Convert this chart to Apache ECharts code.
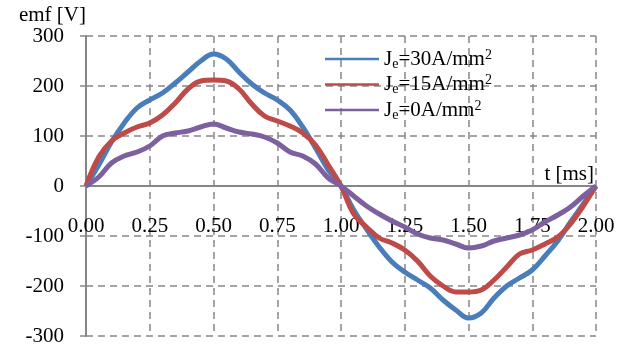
<!DOCTYPE html>
<html>
<head>
<meta charset="utf-8">
<script src="https://cdn.jsdelivr.net/npm/echarts@6/dist/echarts.min.js"></script>
<style>
  html, body { margin: 0; padding: 0; background: #fff; }
  #emfChart { width: 627px; height: 348px; }
</style>
</head>
<body>
<div id="emfChart"></div>
<script>
// time axis [ms], step 0.05
const timeMs = [
  0, 0.05, 0.1, 0.15, 0.2, 0.25, 0.3, 0.35, 0.4, 0.45, 0.5,
  0.55, 0.6, 0.65, 0.7, 0.75, 0.8, 0.85, 0.9, 0.95, 1.0,
  1.05, 1.1, 1.15, 1.2, 1.25, 1.3, 1.35, 1.4, 1.45, 1.5,
  1.55, 1.6, 1.65, 1.7, 1.75, 1.8, 1.85, 1.9, 1.95, 2.0
]
const seriesNames = ['Je=30A/mm2', 'Je=15A/mm2', 'Je=0A/mm2']
const emf30 = [
  0, 42, 88, 126, 156, 172, 186, 206, 228, 250, 264,
  254, 228, 204, 186, 172, 152, 118, 76, 32, 0,
  -48, -86, -122, -152, -172, -188, -204, -228, -248, -264,
  -254, -224, -200, -184, -168, -140, -110, -72, -36, 0
]
const emf15 = [
  0, 58, 90, 106, 118, 126, 142, 166, 194, 210, 212,
  210, 194, 164, 140, 130, 120, 106, 82, 42, 0,
  -56, -82, -104, -114, -128, -150, -180, -200, -212, -212,
  -208, -188, -162, -136, -128, -116, -102, -76, -40, 0
]
const emf0 = [
  0, 18, 46, 60, 68, 80, 100, 106, 110, 118, 124,
  116, 108, 104, 98, 86, 68, 60, 44, 16, 0,
  -20, -40, -56, -70, -82, -96, -104, -108, -116, -124,
  -120, -110, -104, -98, -88, -72, -58, -42, -20, 0
]
const colors = ['#4A7EBB', '#BE4B48', '#7D60A0']

const font = '"Liberation Serif", "Times New Roman", serif'
const fs = 21
const gridLine = { color: '#868686', width: 1.5, type: [7, 5] }

function pairs (ys) {
  return timeMs.map((t, i) => [t, ys[i]])
}

const chart = echarts.init(document.getElementById('emfChart'), null, { renderer: 'canvas' })
chart.setOption({
  animation: false,
  color: colors,
  textStyle: { fontFamily: font, color: '#000' },
  grid: { left: 86, right: 31, top: 36, bottom: 12, containLabel: false, outerBoundsMode: 'none' },
  legend: {
    orient: 'vertical',
    left: 320,
    top: 43,
    icon: 'rect',
    itemWidth: 54,
    itemHeight: 2.5,
    itemGap: 2.5,
    data: seriesNames,
    formatter (name) {
      const m = name.match(/^Je=(\d+)A\/mm2$/)
      return '{b|J}{sub|e}{b|=' + m[1] + 'A/mm}{sup|2}'
    },
    textStyle: {
      fontFamily: font,
      rich: {
        b: { fontSize: fs, fontFamily: font, color: '#000' },
        sub: { fontSize: 14, fontFamily: font, color: '#000', padding: [10, 0, 0, 0] },
        sup: { fontSize: 14, fontFamily: font, color: '#000', padding: [0, 0, 8, 0] }
      }
    }
  },
  xAxis: {
    type: 'value',
    min: 0,
    max: 2,
    interval: 0.25,
    position: 'bottom',
    // the zero line sits half the plot height above the bottom edge
    offset: -150,
    name: 't [ms]',
    nameLocation: 'end',
    nameGap: -2,
    nameTextStyle: {
      fontFamily: font, fontSize: fs, color: '#000',
      align: 'right', verticalAlign: 'bottom', padding: [0, 0, 1, 0]
    },
    axisLine: { onZero: false, lineStyle: { color: '#868686', width: 2 } },
    axisTick: { show: false },
    axisLabel: {
      margin: 30,
      fontFamily: font,
      fontSize: fs,
      color: '#000',
      formatter: v => v.toFixed(2)
    },
    splitLine: { show: true, lineStyle: gridLine }
  },
  yAxis: {
    type: 'value',
    min: -300,
    max: 300,
    interval: 100,
    name: 'emf [V]',
    nameLocation: 'end',
    nameGap: 21,
    nameTextStyle: {
      fontFamily: font, fontSize: fs, color: '#000',
      align: 'right', verticalAlign: 'middle'
    },
    axisLine: { show: true, lineStyle: { color: '#868686', width: 2 } },
    axisTick: { show: true, length: 6, lineStyle: { color: '#868686', width: 1.5 } },
    axisLabel: { margin: 22, fontFamily: font, fontSize: fs, color: '#000' },
    splitLine: { show: true, lineStyle: gridLine }
  },
  series: [
    { name: seriesNames[0], type: 'line', smooth: 0.4, symbol: 'none', lineStyle: { width: 5 }, data: pairs(emf30) },
    { name: seriesNames[1], type: 'line', smooth: 0.4, symbol: 'none', lineStyle: { width: 5 }, data: pairs(emf15) },
    { name: seriesNames[2], type: 'line', smooth: 0.4, symbol: 'none', lineStyle: { width: 5 }, data: pairs(emf0) }
  ]
})
</script>
</body>
</html>
